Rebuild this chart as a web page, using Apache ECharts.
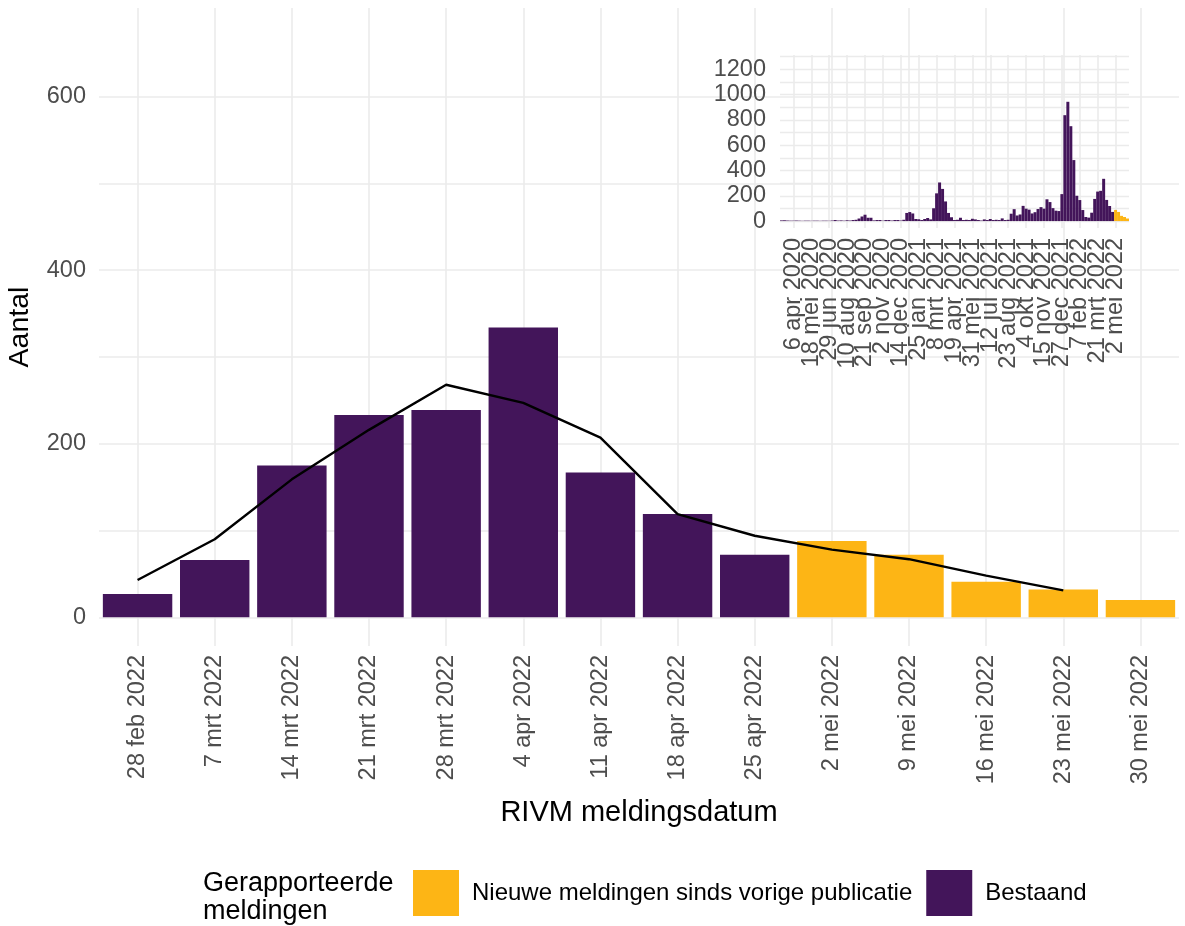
<!DOCTYPE html>
<html>
<head>
<meta charset="utf-8">
<script src="https://cdn.jsdelivr.net/npm/echarts@6/dist/echarts.min.js"></script>
<style>
  html, body { margin: 0; padding: 0; background: #fff; }
  #chart { width: 1185px; height: 926px; }
</style>
</head>
<body>
<div id="chart"></div>
<script>
// hoofdgrafiek: laatste 14 weken
const weeks = ['28 feb 2022', '7 mrt 2022', '14 mrt 2022', '21 mrt 2022', '28 mrt 2022', '4 apr 2022',
  '11 apr 2022', '18 apr 2022', '25 apr 2022', '2 mei 2022', '9 mei 2022', '16 mei 2022', '23 mei 2022', '30 mei 2022'];
const bestaand = [27, 66, 175, 233, 239, 334, 167, 119, 72, null, null, null, null, null];
const nieuw = [null, null, null, null, null, null, null, null, null, 88, 72, 41, 32, 20];
const trend = [43, 90, 159, 216, 268, 247, 207, 119, 94, 78, 67, 48, 31, null];

// inzet: alle weken vanaf 9 mrt 2020
const insetStart = Date.UTC(2020, 2, 9);
const insetBestaand = [
  5, 6, 4, 3, 3, 4, 3, 2, 3, 3, 2, 3, 3, 2, 3, 3, 2, 4,
  8, 4, 5, 3, 6, 4, 8, 10, 20,
  36, 50, 26, 26,
  5, 8, 8, 3, 8, 8, 4, 8, 8, 4, 10,
  64, 71, 60, 16, 14, 8, 16, 24, 13,
  101, 219, 305, 254, 155, 64, 30,
  8, 10, 26, 8, 10, 8, 18,
  13, 8, 4, 13, 8, 16, 8, 10, 8, 21, 8, 10,
  58, 94, 44, 52, 120, 98, 90, 60, 70, 95, 110, 98, 172, 150, 102, 82, 79, 213,
  837, 943, 750, 482, 200, 166, 87, 32, 27, 66, 175, 233, 239, 334, 167, 119, 72
];
const insetNieuw = [88, 72, 41, 32, 20];

const mainTicks = [0, 200, 400, 600];
const mainGrid = [0, 100, 200, 300, 400, 500, 600];
const insetTicks = [0, 200, 400, 600, 800, 1000, 1200];
const insetGrid = [0, 100, 200, 300, 400, 500, 600, 700, 800, 900, 1000, 1100, 1200, 1300];

const maanden = ['jan', 'feb', 'mrt', 'apr', 'mei', 'jun', 'jul', 'aug', 'sep', 'okt', 'nov', 'dec'];
const insetCount = insetBestaand.length + insetNieuw.length;
const insetWeeks = [];
for (let i = 0; i < insetCount; i++) {
  const d = new Date(insetStart + i * 7 * 86400000);
  insetWeeks.push(d.getUTCDate() + ' ' + maanden[d.getUTCMonth()] + ' ' + d.getUTCFullYear());
}
const insetPurple = insetBestaand.concat(insetNieuw.map(() => null));
const insetYellow = insetBestaand.map(() => null).concat(insetNieuw);
const insetLabelShown = (i) => (i - 4) % 6 === 0;
// lege labels aan de randen, zodat echarts geen buurlabels verbergt
const insetLabelSlot = (i) => i === 0 || i === insetCount - 1 || insetLabelShown(i);

const PURPLE = '#43155a';
const YELLOW = '#fdb515';
const GRID = '#ebebeb';
const FONT = 'Liberation Sans, Arial, sans-serif';

const myChart = echarts.init(document.getElementById('chart'));

const option = {
  animation: false,
  backgroundColor: '#fff',
  textStyle: { fontFamily: FONT },
  grid: [
    { left: 99, right: 6, top: 8, bottom: 280, outerBoundsMode: 'none' },
    { left: 780, right: 56, top: 55, bottom: 698, outerBoundsMode: 'none' }
  ],
  legend: {
    left: 408,
    top: 865,
    itemWidth: 46,
    itemHeight: 46,
    itemGap: 14,
    icon: 'rect',
    selectedMode: false,
    data: ['Nieuwe meldingen sinds vorige publicatie', 'Bestaand'],
    textStyle: { fontSize: 24, color: '#000', padding: [0, 0, 0, 8] }
  },
  graphic: [
    {
      type: 'text',
      left: 203,
      top: 870,
      style: {
        text: 'Gerapporteerde\nmeldingen',
        fontSize: 27,
        lineHeight: 28,
        fontFamily: FONT,
        fill: '#000'
      }
    }
  ],
  xAxis: [
    {
      type: 'category',
      gridIndex: 0,
      data: weeks,
      name: 'RIVM meldingsdatum',
      nameLocation: 'middle',
      nameGap: 152,
      nameTextStyle: { fontSize: 29, color: '#000' },
      axisLine: { show: false },
      axisTick: { show: false },
      axisLabel: { interval: 0, rotate: 90, fontSize: 23.5, color: '#4d4d4d', margin: 9 },
      splitLine: { show: true, interval: 0, alignWithLabel: true, lineStyle: { color: GRID, width: 1.6 } }
    },
    {
      type: 'category',
      gridIndex: 1,
      data: insetWeeks,
      axisLine: { show: false },
      axisTick: { show: false },
      axisLabel: {
        interval: insetLabelSlot, rotate: 90, fontSize: 23.5, color: '#4d4d4d', margin: 10,
        padding: [0, 0, 8, 0],
        formatter: (value, index) => (insetLabelShown(index) ? value : '')
      },
      splitLine: { show: true, interval: insetLabelShown, alignWithLabel: true, lineStyle: { color: GRID, width: 1.6 } }
    }
  ],
  yAxis: [
    {
      type: 'value',
      gridIndex: 0,
      min: -33,
      max: 702,
      name: 'Aantal',
      nameLocation: 'middle',
      nameGap: 64,
      nameTextStyle: { fontSize: 28.5, color: '#000' },
      axisLine: { show: false },
      axisTick: { show: false, customValues: mainGrid },
      axisLabel: { customValues: mainTicks, fontSize: 23.5, color: '#4d4d4d', margin: 13 },
      splitLine: { show: true, lineStyle: { color: GRID, width: 1.6 } }
    },
    {
      type: 'value',
      gridIndex: 1,
      min: -55,
      max: 1313,
      axisLine: { show: false },
      axisTick: { show: false, customValues: insetGrid },
      axisLabel: {
        customValues: insetTicks, fontSize: 23.5, color: '#4d4d4d', margin: 14,
        formatter: (v) => String(v)
      },
      splitLine: { show: true, lineStyle: { color: GRID, width: 1.4 } }
    }
  ],
  series: [
    {
      name: 'Nieuwe meldingen sinds vorige publicatie',
      type: 'bar',
      stack: 'main',
      barWidth: '90%',
      data: nieuw,
      itemStyle: { color: YELLOW }
    },
    {
      name: 'Bestaand',
      type: 'bar',
      stack: 'main',
      barWidth: '90%',
      data: bestaand,
      itemStyle: { color: PURPLE }
    },
    {
      name: 'trend',
      type: 'line',
      data: trend,
      symbol: 'none',
      z: 5,
      lineStyle: { color: '#000', width: 2.4 }
    },
    {
      name: 'Bestaand',
      type: 'bar',
      xAxisIndex: 1,
      yAxisIndex: 1,
      stack: 'inset',
      barCategoryGap: '0%',
      data: insetPurple,
      itemStyle: { color: PURPLE }
    },
    {
      name: 'Nieuwe meldingen sinds vorige publicatie',
      type: 'bar',
      xAxisIndex: 1,
      yAxisIndex: 1,
      stack: 'inset',
      barCategoryGap: '0%',
      data: insetYellow,
      itemStyle: { color: YELLOW }
    }
  ]
};

myChart.setOption(option);
</script>
</body>
</html>
